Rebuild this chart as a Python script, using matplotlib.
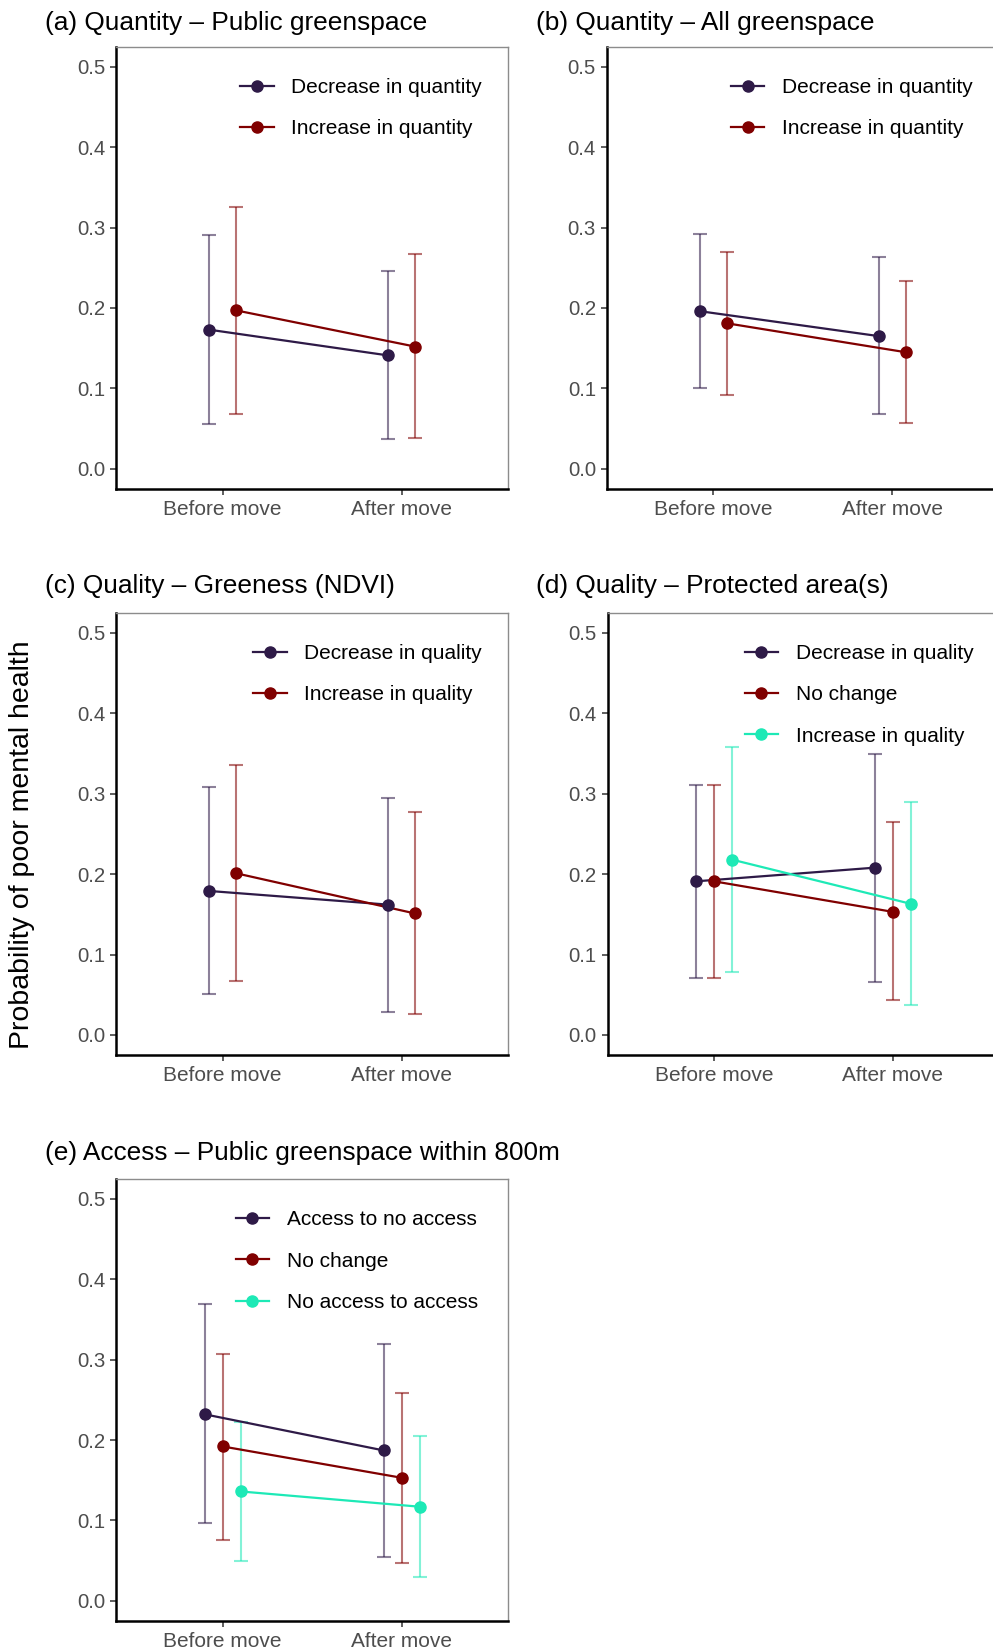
import matplotlib
matplotlib.use("Agg")
import matplotlib.pyplot as plt
from matplotlib.lines import Line2D
import numpy as np

plt.rcParams['font.family'] = ['Liberation Sans', 'DejaVu Sans']

# ---------------- data ----------------
periods = ["Before move", "After move"]

a_title = "(a) Quantity \u2013 Public greenspace"
a_groups = ["Decrease in quantity", "Increase in quantity"]
a_est = [[0.173, 0.141], [0.197, 0.152]]
a_lo = [[0.056, 0.037], [0.068, 0.039]]
a_hi = [[0.291, 0.246], [0.325, 0.267]]

b_title = "(b) Quantity \u2013 All greenspace"
b_groups = ["Decrease in quantity", "Increase in quantity"]
b_est = [[0.196, 0.165], [0.181, 0.145]]
b_lo = [[0.101, 0.068], [0.092, 0.057]]
b_hi = [[0.292, 0.263], [0.270, 0.234]]

c_title = "(c) Quality \u2013 Greeness (NDVI)"
c_groups = ["Decrease in quality", "Increase in quality"]
c_est = [[0.179, 0.162], [0.201, 0.151]]
c_lo = [[0.051, 0.029], [0.067, 0.026]]
c_hi = [[0.308, 0.295], [0.336, 0.277]]

d_title = "(d) Quality \u2013 Protected area(s)"
d_groups = ["Decrease in quality", "No change", "Increase in quality"]
d_est = [[0.191, 0.208], [0.191, 0.153], [0.218, 0.163]]
d_lo = [[0.071, 0.066], [0.071, 0.043], [0.078, 0.037]]
d_hi = [[0.311, 0.349], [0.311, 0.265], [0.358, 0.289]]

e_title = "(e) Access \u2013 Public greenspace within 800m"
e_groups = ["Access to no access", "No change", "No access to access"]
e_est = [[0.232, 0.187], [0.192, 0.153], [0.136, 0.117]]
e_lo = [[0.097, 0.055], [0.076, 0.047], [0.050, 0.029]]
e_hi = [[0.369, 0.320], [0.307, 0.259], [0.223, 0.205]]

y_ticks = [0.0, 0.1, 0.2, 0.3, 0.4, 0.5]
y_label = "Probability of poor mental health"

# ---------------- style ----------------
colors = ['#2E1A47', '#800000', '#1DE9B6']
W, H = 993, 1651
fig = plt.figure(figsize=(W / 100, H / 100), dpi=100)

def px_axes(l, t, r, b):
    return fig.add_axes([l / W, 1 - b / H, (r - l) / W, (b - t) / H])

# (title, groups, est, lo, hi, axes box px, title pos px, legend right offset px)
panels = [
    (a_title, a_groups, a_est, a_lo, a_hi, (116.2, 46.5, 508.2, 489.0), (45, 23), 26),
    (b_title, b_groups, b_est, b_lo, b_hi, (606.8, 46.5, 998.8, 489.0), (536, 23), 26),
    (c_title, c_groups, c_est, c_lo, c_hi, (116.2, 612.6, 508.2, 1055.1), (45, 586.5), 26),
    (d_title, d_groups, d_est, d_lo, d_hi, (607.5, 612.6, 999.5, 1055.1), (536, 586.5), 26),
    (e_title, e_groups, e_est, e_lo, e_hi, (116.2, 1178.9, 508.2, 1620.8), (44.6, 1153), 30.5),
]

dodge_width = 0.3
x_base = np.arange(1, len(periods) + 1)

for title, groups, est, lo, hi, box, tpos, loff in panels:
    ax = px_axes(*box)
    n = len(groups)
    handles = []
    for i, g in enumerate(groups):
        off = (i - (n - 1) / 2) * dodge_width / n
        xs = x_base + off
        e = np.array(est[i]); l = np.array(lo[i]); h = np.array(hi[i])
        ax.errorbar(xs, e, yerr=[e - l, h - e], fmt='none', ecolor=colors[i],
                    alpha=0.55, elinewidth=1.5, capsize=5, capthick=1.5, zorder=2)
        ax.plot(xs, e, color=colors[i], lw=1.6, zorder=3)
        ax.plot(xs, e, 'o', color=colors[i], ms=8, zorder=4)
        handles.append(Line2D([], [], color=colors[i], lw=1.6, marker='o', ms=8))
    ax.set_xlim(0.405, 2.595)
    ax.set_ylim(-0.025, 0.525)
    ax.set_xticks(x_base)
    ax.set_xticklabels(periods)
    ax.set_yticks(y_ticks)
    ax.set_yticklabels([f"{v:.1f}" for v in y_ticks])
    ax.tick_params(axis='y', labelsize=14.7, labelcolor='#4D4D4D', length=4.3,
                   width=1.1, color='#333333', pad=3.5)
    ax.tick_params(axis='x', labelsize=15, labelcolor='#4D4D4D', length=4.3,
                   width=1.1, color='#333333', pad=3.5)
    for s in ['left', 'bottom']:
        ax.spines[s].set_color('black')
        ax.spines[s].set_linewidth(1.8)
    for s in ['top', 'right']:
        ax.spines[s].set_color('#8C8C8C')
        ax.spines[s].set_linewidth(1.0)
    l, t, r, b = box
    bw, bh = r - l, b - t
    ax.legend(handles, groups, loc='upper right',
              bbox_to_anchor=(1 - loff / bw, 1 - 31.5 / bh), frameon=False,
              fontsize=15, borderpad=0, borderaxespad=0, handlelength=1.6,
              handletextpad=0.85, labelspacing=1.07)
    fig.text(tpos[0] / W, 1 - tpos[1] / H, title, fontsize=18.9, ha='left',
             va='center', color='black')

fig.text(22.5 / W, 1 - 845 / H, y_label, rotation=90, fontsize=20.5,
         ha='center', va='center', color='black')

fig.savefig('out.png', dpi=100)
